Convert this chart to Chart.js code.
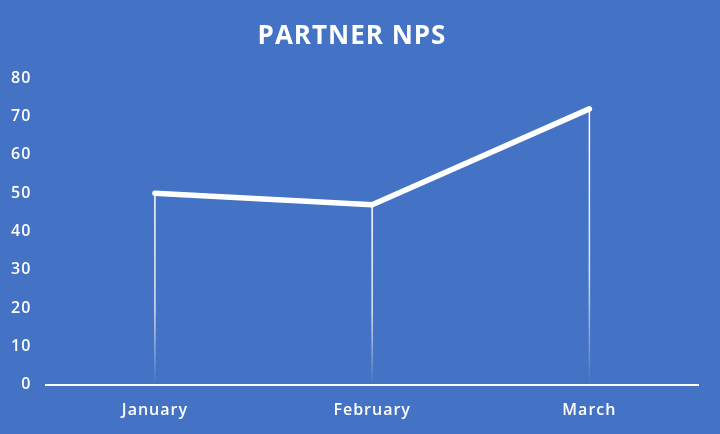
<!DOCTYPE html>
<html>
<head>
<meta charset="utf-8">
<script src="https://cdn.jsdelivr.net/npm/chart.js@4"></script>
<style>
  html, body { margin: 0; padding: 0; background: #4472C4; }
  #wrap { width: 720px; height: 434px; }
</style>
</head>
<body>
<div id="wrap"><canvas id="nps"></canvas></div>
<script>
const months = ['January', 'February', 'March'];
const npsScores = [50, 47, 72];
const yTicks = [0, 10, 20, 30, 40, 50, 60, 70, 80];

// vertical drop lines from each point to the axis, fading out at the bottom
const dropLines = {
  id: 'dropLines',
  beforeDatasetsDraw(chart) {
    const ctx = chart.ctx;
    const x = chart.scales.x, y = chart.scales.y;
    const base = y.getPixelForValue(0);
    npsScores.forEach((v, i) => {
      const px = x.getPixelForValue(i);
      const py = y.getPixelForValue(v);
      const g = ctx.createLinearGradient(0, py, 0, base);
      g.addColorStop(0, 'rgba(255,255,255,1)');
      g.addColorStop(0.6, 'rgba(255,255,255,0.8)');
      g.addColorStop(1, 'rgba(255,255,255,0)');
      ctx.save();
      ctx.strokeStyle = g;
      ctx.lineWidth = 1.5;
      ctx.beginPath();
      ctx.moveTo(px, py);
      ctx.lineTo(px, base);
      ctx.stroke();
      ctx.restore();
    });
  }
};

const spacing = {
  id: 'spacing',
  beforeDraw(chart) { chart.ctx.letterSpacing = '1px'; }
};

new Chart(document.getElementById('nps'), {
  type: 'line',
  data: {
    labels: months,
    datasets: [{
      data: npsScores,
      borderColor: '#ffffff',
      borderWidth: 5.5,
      borderCapStyle: 'round',
      borderJoinStyle: 'round',
      pointRadius: 0,
      tension: 0
    }]
  },
  options: {
    responsive: true,
    maintainAspectRatio: false,
    animation: false,
    layout: { padding: { left: 6, right: 22, top: 4, bottom: 6 } },
    plugins: {
      legend: { display: false },
      tooltip: { enabled: false },
      title: {
        display: true,
        text: 'PARTNER NPS',
        color: '#ffffff',
        font: { family: 'Open Sans', size: 26, weight: 'bold' },
        padding: { top: 17, bottom: 26 }
      }
    },
    scales: {
      x: {
        offset: true,
        grid: { display: false },
        border: { display: true, color: '#ffffff', width: 2 },
        ticks: {
          color: '#ffffff',
          font: { family: 'Open Sans', size: 16, weight: '600' },
          padding: 8
        }
      },
      y: {
        min: 0,
        max: 80,
        afterBuildTicks(axis) { axis.ticks = yTicks.map(v => ({ value: v })); },
        grid: { display: false },
        border: { display: false },
        ticks: {
          color: '#ffffff',
          font: { family: 'Open Sans', size: 16, weight: '600' },
          padding: 7
        }
      }
    }
  },
  plugins: [dropLines, spacing]
});
</script>
</body>
</html>
